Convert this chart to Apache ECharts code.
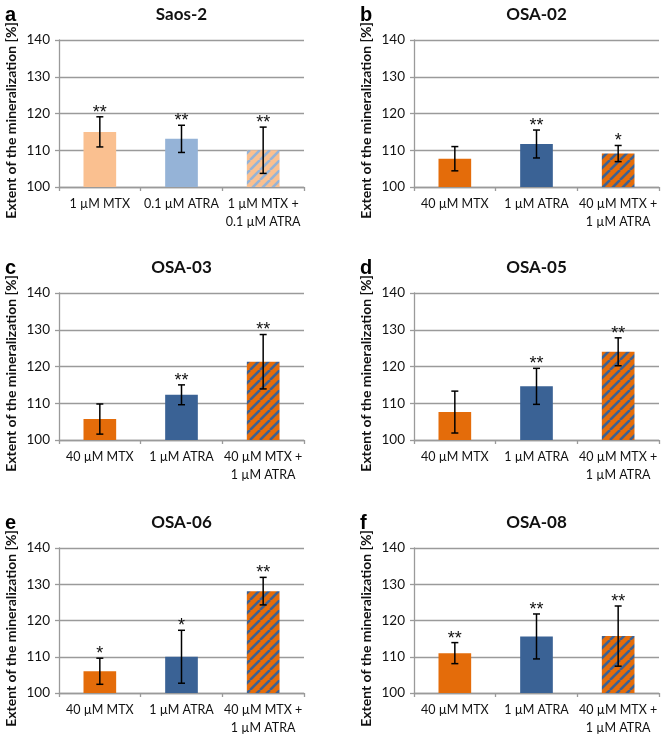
<!DOCTYPE html>
<html>
<head>
<meta charset="utf-8">
<script src="https://cdn.jsdelivr.net/npm/echarts@6/dist/echarts.min.js"></script>
<style>
html,body{margin:0;padding:0;background:#fff;}
#chart{width:664px;height:737px;}
</style>
</head>
<body>
<div id="chart"></div>
<script>
// ---- data ----
const catsSaos = ['1 µM MTX', '0.1 µM ATRA', '1 µM MTX +\n0.1 µM ATRA'];
const catsOsa = ['40 µM MTX', '1 µM ATRA', '40 µM MTX +\n1 µM ATRA'];
const yTicks = [100, 110, 120, 130, 140];
const yName = 'Extent of the mineralization [%]';

const panelTitles = ['Saos-2', 'OSA-02', 'OSA-03', 'OSA-05', 'OSA-06', 'OSA-08'];
const panelLetters = ['a', 'b', 'c', 'd', 'e', 'f'];

const meanA = [115.0, 113.1, 110.0];
const errA = [4.1, 3.7, 6.3];
const starsA = ['**', '**', '**'];

const meanB = [107.7, 111.7, 109.1];
const errB = [3.3, 3.8, 2.2];
const starsB = ['', '**', '*'];

const meanC = [105.7, 112.3, 121.3];
const errC = [4.1, 2.7, 7.4];
const starsC = ['', '**', '**'];

const meanD = [107.6, 114.6, 124.0];
const errD = [5.7, 4.9, 3.8];
const starsD = ['', '**', '**'];

const meanE = [106.0, 110.0, 128.1];
const errE = [3.6, 7.3, 3.8];
const starsE = ['*', '*', '**'];

const meanF = [111.0, 115.6, 115.7];
const errF = [2.9, 6.2, 8.3];
const starsF = ['**', '**', '**'];

// ---- styling ----
const ORANGE = '#E46C0A', BLUE = '#3A6295';
const LORANGE = '#FAC090', LBLUE = '#95B3D7';
const FONT = 'Lato';

function stripe(bg, fg) {
  const s = 10;
  const c = document.createElement('canvas');
  c.width = s; c.height = s;
  const g = c.getContext('2d');
  g.fillStyle = bg; g.fillRect(0, 0, s, s);
  g.strokeStyle = fg; g.lineWidth = 2.6;
  g.beginPath();
  for (const k of [-s, 0, s]) { g.moveTo(k, s); g.lineTo(k + s, 0); }
  g.stroke();
  return { image: c, repeat: 'repeat' };
}

const panels = [
  { cats: catsSaos, mean: meanA, err: errA, stars: starsA, colors: [LORANGE, LBLUE, stripe(LORANGE, LBLUE)] },
  { cats: catsOsa, mean: meanB, err: errB, stars: starsB, colors: [ORANGE, BLUE, stripe(ORANGE, BLUE)] },
  { cats: catsOsa, mean: meanC, err: errC, stars: starsC, colors: [ORANGE, BLUE, stripe(ORANGE, BLUE)] },
  { cats: catsOsa, mean: meanD, err: errD, stars: starsD, colors: [ORANGE, BLUE, stripe(ORANGE, BLUE)] },
  { cats: catsOsa, mean: meanE, err: errE, stars: starsE, colors: [ORANGE, BLUE, stripe(ORANGE, BLUE)] },
  { cats: catsOsa, mean: meanF, err: errF, stars: starsF, colors: [ORANGE, BLUE, stripe(ORANGE, BLUE)] }
];

const lefts = [59, 414];
const tops = [40, 293, 548];
const GW = 245, GH = 147;
const AXC = '#9A9A9A';

const grid = [], xAxis = [], yAxis = [], series = [], graphic = [];
panels.forEach((p, i) => {
  const L = lefts[i % 2], T = tops[Math.floor(i / 2)];
  grid.push({ left: L, top: T, width: GW, height: GH, containLabel: false });
  xAxis.push({
    type: 'category', gridIndex: i, data: p.cats,
    axisLine: { lineStyle: { color: AXC, width: 1.3 } },
    axisTick: { show: true, length: 4, lineStyle: { color: AXC, width: 1.3 } },
    axisLabel: { color: '#111', fontFamily: FONT, fontSize: 12.5, margin: 8, lineHeight: 18, interval: 0 }
  });
  yAxis.push({
    type: 'value', gridIndex: i, min: yTicks[0], max: yTicks[yTicks.length - 1], interval: 10,
    axisLine: { show: true, lineStyle: { color: AXC, width: 1.3 } },
    axisTick: { show: true, length: 4, lineStyle: { color: AXC, width: 1.3 } },
    splitLine: { lineStyle: { color: AXC, width: 1.3 } },
    axisLabel: { color: '#111', fontFamily: FONT, fontSize: 13.5, margin: 9 }
  });
  series.push({
    type: 'bar', xAxisIndex: i, yAxisIndex: i, barWidth: '40%',
    data: p.mean.map((v, j) => ({ value: v, itemStyle: { color: p.colors[j] } })),
    silent: true, animation: false
  });
  series.push({
    type: 'custom', xAxisIndex: i, yAxisIndex: i, animation: false, silent: true, z: 5,
    data: p.mean.map((v, j) => [j, v, p.err[j]]),
    encode: { x: 0, y: 1 },
    renderItem: (params, api) => {
      const x = api.value(0), m = api.value(1), e = api.value(2);
      const tp = api.coord([x, m + e]), bt = api.coord([x, m - e]);
      const cw = 3.5;
      const st = { stroke: '#000', lineWidth: 1.5 };
      return {
        type: 'group', children: [
          { type: 'line', shape: { x1: tp[0], y1: tp[1], x2: bt[0], y2: bt[1] }, style: st },
          { type: 'line', shape: { x1: tp[0] - cw, y1: tp[1], x2: tp[0] + cw, y2: tp[1] }, style: st },
          { type: 'line', shape: { x1: bt[0] - cw, y1: bt[1], x2: bt[0] + cw, y2: bt[1] }, style: st },
          { type: 'text', style: { text: p.stars[params.dataIndex], x: tp[0], y: tp[1] - 4, textAlign: 'center', textVerticalAlign: 'middle', fill: '#111', font: '18px "Liberation Sans"' } }
        ]
      };
    }
  });
  graphic.push({ type: 'text', style: { text: panelTitles[i], x: L + GW / 2, y: T - 25, textAlign: 'center', textVerticalAlign: 'middle', fill: '#111', font: 'bold 17px ' + FONT } });
  graphic.push({ type: 'text', style: { text: panelLetters[i], x: L - 54, y: T - 25, textAlign: 'left', textVerticalAlign: 'middle', fill: '#000', font: 'bold 20px "Liberation Sans"' } });
  graphic.push({ type: 'text', x: L - 48, y: T + GH / 2 + 7, rotation: Math.PI / 2, style: { text: yName, x: 0, y: 0, textAlign: 'center', textVerticalAlign: 'middle', fill: '#111', font: 'bold 14px ' + FONT } });
});

const chart = echarts.init(document.getElementById('chart'), null, { renderer: 'canvas' });
chart.setOption({ animation: false, grid, xAxis, yAxis, series, graphic });
</script>
</body>
</html>
